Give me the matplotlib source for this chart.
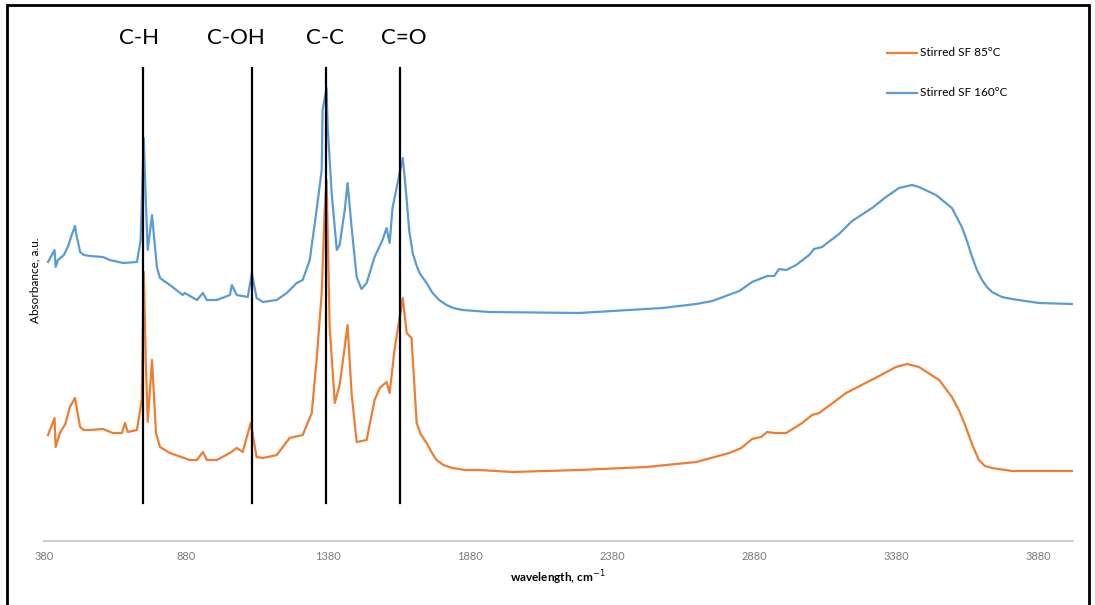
import matplotlib.pyplot as plt
from matplotlib.patches import Rectangle

# wavenumber (cm-1) and absorbance (a.u.)
wn_85 = [394, 417, 421, 436, 455, 471, 489, 497, 507, 520, 542, 587, 622, 654, 665, 675, 707, 724,
         731, 738, 745, 760, 774, 788, 823, 893, 918, 939, 953, 988, 1034, 1058, 1079, 1107, 1128,
         1150, 1199, 1244, 1290, 1322, 1339, 1357, 1367, 1374, 1385, 1403, 1420, 1438, 1448, 1462,
         1480, 1515, 1543, 1561, 1585, 1596, 1613, 1642, 1656, 1673, 1691, 1705, 1726, 1745, 1761,
         1785, 1817, 1860, 1912, 2028, 2263, 2499, 2675, 2791, 2833, 2871, 2903, 2924, 2949, 2991,
         3047, 3082, 3107, 3202, 3318, 3377, 3416, 3458, 3529, 3574, 3600, 3623, 3646, 3669, 3690,
         3715, 3785, 3996]
ab_85 = [1.06, 1.23, 0.94, 1.08, 1.17, 1.34, 1.43, 1.30, 1.14, 1.11, 1.11, 1.12, 1.08, 1.08, 1.18,
         1.09, 1.11, 1.41, 2.69, 1.81, 1.19, 1.81, 1.08, 0.94, 0.88, 0.81, 0.81, 0.89, 0.81, 0.81,
         0.88, 0.93, 0.89, 1.18, 0.84, 0.83, 0.86, 1.03, 1.06, 1.28, 1.81, 2.48, 3.28, 3.61, 2.14,
         1.38, 1.56, 1.94, 2.16, 1.48, 0.99, 1.01, 1.41, 1.53, 1.59, 1.48, 1.91, 2.43, 2.08, 2.03,
         1.18, 1.07, 0.98, 0.88, 0.81, 0.76, 0.73, 0.71, 0.71, 0.69, 0.71, 0.74, 0.79, 0.88, 0.93,
         1.02, 1.04, 1.09, 1.08, 1.08, 1.18, 1.26, 1.28, 1.48, 1.65, 1.74, 1.77, 1.74, 1.61, 1.44,
         1.30, 1.14, 0.96, 0.81, 0.75, 0.73, 0.70, 0.70]

wn_160 = [394, 417, 421, 429, 450, 465, 475, 489, 495, 507, 520, 542, 587, 612, 658, 707, 720, 731,
          738, 745, 760, 777, 788, 823, 868, 875, 918, 939, 953, 988, 1034, 1041, 1058, 1097, 1111,
          1128, 1150, 1199, 1234, 1269, 1290, 1315, 1339, 1357, 1360, 1374, 1378, 1392, 1410, 1420,
          1438, 1448, 1462, 1480, 1497, 1515, 1543, 1571, 1585, 1596, 1606, 1624, 1642, 1650, 1656,
          1665, 1677, 1690, 1701, 1726, 1747, 1770, 1796, 1820, 1852, 1947, 2263, 2379, 2555, 2675,
          2731, 2826, 2871, 2924, 2949, 2966, 2991, 3026, 3072, 3089, 3117, 3177, 3223, 3293, 3342,
          3388, 3434, 3458, 3518, 3574, 3609, 3627, 3645, 3662, 3680, 3697, 3715, 3750, 3785, 3880,
          3996]
ab_160 = [2.79, 2.91, 2.74, 2.81, 2.86, 2.95, 3.04, 3.15, 3.05, 2.89, 2.86, 2.85, 2.84, 2.81, 2.78,
          2.79, 3.01, 4.03, 3.41, 2.91, 3.26, 2.74, 2.63, 2.56, 2.46, 2.48, 2.41, 2.48, 2.41, 2.41,
          2.46, 2.56, 2.46, 2.44, 2.68, 2.43, 2.39, 2.41, 2.48, 2.58, 2.61, 2.81, 3.31, 3.71, 4.31,
          4.53, 4.14, 3.48, 2.91, 2.96, 3.31, 3.58, 3.14, 2.64, 2.52, 2.58, 2.84, 3.01, 3.13, 2.98,
          3.33, 3.58, 3.83, 3.60, 3.41, 3.10, 2.88, 2.76, 2.68, 2.58, 2.48, 2.41, 2.36, 2.33, 2.31,
          2.29, 2.28, 2.30, 2.33, 2.37, 2.40, 2.50, 2.59, 2.65, 2.65, 2.72, 2.71, 2.76, 2.86, 2.92,
          2.94, 3.07, 3.20, 3.33, 3.44, 3.53, 3.56, 3.54, 3.46, 3.33, 3.14, 3.00, 2.84, 2.71, 2.61,
          2.54, 2.49, 2.44, 2.42, 2.38, 2.37]

bands = ["C-H", "C-OH", "C-C", "C=O"]
band_pos = [729, 1111, 1373, 1634]
label_pos = [715, 1056, 1369, 1645]

xticks = [380, 880, 1380, 1880, 2380, 2880, 3380, 3880]

plt.rcParams['font.family'] = ['Lato', 'DejaVu Sans']

fig = plt.figure(figsize=(10.95, 6.05), dpi=100)
ax = fig.add_axes([44 / 1095, 64 / 605, 1029 / 1095, 521 / 605])

for p in band_pos:
    ax.plot([p, p], [0.38, 4.73], color="black", linewidth=1.6, zorder=3)
for name, p in zip(bands, label_pos):
    ax.text(p, 5.03, name, fontsize=16, ha="center", va="center")

ax.plot(wn_85, ab_85, color="#ED7D31", linewidth=1.6, zorder=2)
ax.plot(wn_160, ab_160, color="#5B9BD5", linewidth=1.6, zorder=2)

ax.set_xlim(380, 4000)
ax.set_ylim(0, 5.21)
ax.set_xticks(xticks)
ax.set_xticklabels([str(t) for t in xticks], color="#7a7a7a", fontsize=8)
ax.tick_params(axis="x", length=0, pad=7)
ax.set_yticks([])
for s in ["top", "right", "left"]:
    ax.spines[s].set_visible(False)
ax.spines["bottom"].set_color("#c8c8c8")
ax.spines["bottom"].set_linewidth(1.3)

fig.text(558 / 1095, 1 - 578 / 605, "wavelength, cm$^{-1}$", fontsize=8.5,
         fontweight="bold", ha="center", va="center")
fig.text(35 / 1095, 1 - 280 / 605, "Absorbance, a.u.", fontsize=8.5, rotation=90,
         ha="center", va="center")

# legend drawn by hand, placed like the original
for y, col, lab in [(53, "#ED7D31", "Stirred SF 85°C"), (93, "#5B9BD5", "Stirred SF 160°C")]:
    yf = 1 - y / 605
    fig.add_artist(plt.Line2D([887 / 1095, 917 / 1095], [yf, yf], color=col, linewidth=1.6))
    fig.text(920 / 1095, yf, lab, fontsize=8.5, va="center", ha="left")

fig.add_artist(Rectangle((7 / 1095, -0.02), 1082 / 1095, 0.02 + 600 / 605, fill=False,
                         edgecolor="black", linewidth=2, transform=fig.transFigure))

fig.savefig("out.png", dpi=100)
